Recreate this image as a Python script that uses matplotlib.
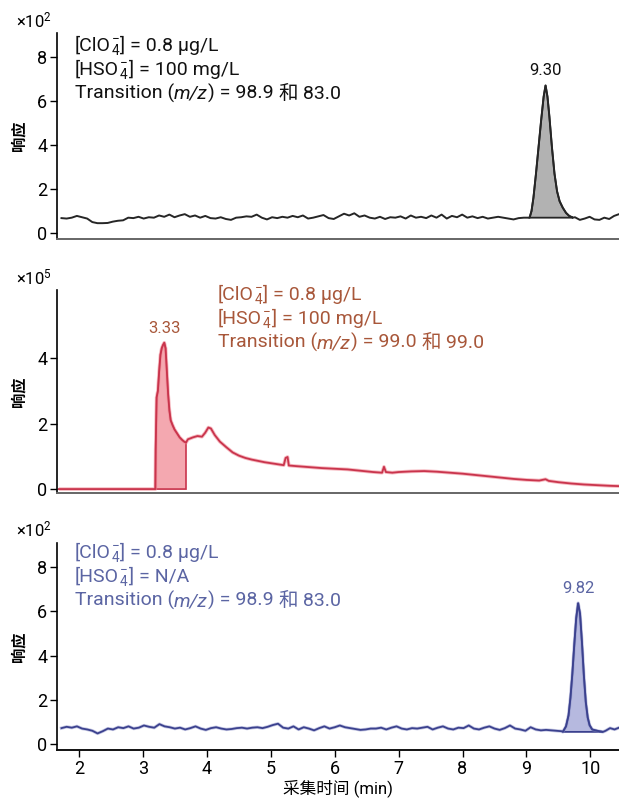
import numpy as np
import matplotlib
matplotlib.use("Agg")
import matplotlib.pyplot as plt
import matplotlib.transforms as mtransforms
from matplotlib import font_manager as fm

# ---------------- fonts ----------------
names = {f.name for f in fm.fontManager.ttflist}
if 'Liberation Sans Narrow' in names:
    FONT = 'Liberation Sans Narrow'
elif 'Roboto' in names:
    FONT = 'Roboto'
else:
    FONT = 'Liberation Sans'
CJK = 'Noto Sans CJK SC'
plt.rcParams['font.family'] = [FONT, CJK, 'DejaVu Sans']
plt.rcParams['mathtext.fontset'] = 'custom'
plt.rcParams['mathtext.rm'] = FONT
plt.rcParams['mathtext.it'] = FONT + ':italic'
plt.rcParams['mathtext.bf'] = FONT + ':bold'

# ---------------- data ----------------
x_ticks = [2, 3, 4, 5, 6, 7, 8, 9, 10]
x_label = "采集时间 (min)"
y_label = "响应"

# Panel 1 (ClO4-, HSO4- 100 mg/L, 98.9 -> 83.0), response x10^2
top_base1 = [0.68, 0.66, 0.70, 0.78, 0.72, 0.66, 0.50, 0.45, 0.45, 0.46, 0.52, 0.56,
             0.58, 0.70, 0.68, 0.74, 0.66, 0.72, 0.70, 0.80, 0.74, 0.84, 0.72, 0.80,
             0.86, 0.74, 0.80, 0.70, 0.78, 0.68, 0.66, 0.72, 0.64, 0.60, 0.70, 0.72,
             0.76, 0.74, 0.84, 0.70, 0.62, 0.72, 0.68, 0.74, 0.70, 0.78, 0.72, 0.80,
             0.66, 0.70, 0.76, 0.82, 0.68, 0.64, 0.76, 0.88, 0.80, 0.90, 0.74, 0.80,
             0.70, 0.66, 0.74, 0.64, 0.72, 0.70, 0.76, 0.66, 0.80, 0.70, 0.74, 0.68,
             0.80, 0.70, 0.84, 0.66, 0.78, 0.72, 0.84, 0.70, 0.76, 0.68, 0.74, 0.66,
             0.70, 0.74, 0.70, 0.66, 0.62, 0.68, 0.70, 0.70]
top_peak_t = [9.05, 9.08, 9.11, 9.15, 9.19, 9.23, 9.27, 9.30, 9.33, 9.36, 9.40,
              9.44, 9.48, 9.52, 9.57, 9.62, 9.67, 9.73]
top_peak_y = [0.70, 1.00, 1.60, 2.70, 3.90, 5.10, 6.20, 6.72, 6.20, 5.30, 3.90,
              2.70, 1.90, 1.45, 1.15, 0.92, 0.78, 0.70]
top_base2 = [0.72, 0.60, 0.66, 0.74, 0.62, 0.60, 0.70, 0.64, 0.78, 0.86]
top_peak_label = "9.30"

# Panel 2 (99.0 -> 99.0), response x10^5
mid_t = [1.68, 3.19, 3.195, 3.21, 3.23, 3.25, 3.27, 3.29, 3.31, 3.33, 3.35, 3.37,
         3.39, 3.41, 3.43, 3.46, 3.49, 3.53, 3.57, 3.61, 3.64, 3.67,
         3.70, 3.78, 3.85, 3.92, 3.97, 4.02, 4.06, 4.12, 4.20, 4.30, 4.40, 4.50,
         4.60, 4.70, 4.80, 4.90, 5.00, 5.10, 5.20, 5.23, 5.26, 5.28, 5.40, 5.60,
         5.80, 6.00, 6.20, 6.40, 6.60, 6.74, 6.77, 6.80, 6.90, 7.00, 7.20, 7.40,
         7.60, 7.80, 8.00, 8.20, 8.40, 8.60, 8.80, 9.00, 9.20, 9.30, 9.35, 9.50,
         9.70, 9.90, 10.10, 10.30, 10.45]
mid_y = [0.00, 0.00, 1.20, 2.80, 3.00, 3.60, 4.10, 4.30, 4.40, 4.47, 4.30, 3.60,
         2.90, 2.40, 2.10, 1.95, 1.82, 1.70, 1.58, 1.50, 1.45, 1.42,
         1.52, 1.58, 1.62, 1.60, 1.72, 1.88, 1.85, 1.65, 1.45, 1.28, 1.12, 1.02,
         0.95, 0.90, 0.86, 0.82, 0.79, 0.76, 0.73, 0.95, 0.98, 0.72, 0.70, 0.67,
         0.64, 0.62, 0.60, 0.56, 0.52, 0.50, 0.68, 0.52, 0.50, 0.52, 0.54, 0.55,
         0.53, 0.50, 0.47, 0.43, 0.39, 0.35, 0.31, 0.28, 0.26, 0.30, 0.25, 0.21,
         0.17, 0.14, 0.12, 0.10, 0.09]
mid_fill_range = (3.19, 3.67)
mid_peak_label = "3.33"

# Panel 3 (ClO4- only, 98.9 -> 83.0), response x10^2
bot_base1 = [0.72, 0.78, 0.74, 0.80, 0.70, 0.66, 0.60, 0.48, 0.58, 0.70, 0.66, 0.76,
             0.72, 0.80, 0.70, 0.74, 0.84, 0.78, 0.74, 0.90, 0.80, 0.76, 0.70, 0.74,
             0.66, 0.72, 0.80, 0.70, 0.64, 0.72, 0.76, 0.70, 0.66, 0.68, 0.72, 0.74,
             0.70, 0.74, 0.76, 0.72, 0.78, 0.86, 0.92, 0.74, 0.70, 0.80, 0.66, 0.76,
             0.70, 0.62, 0.72, 0.80, 0.70, 0.76, 0.84, 0.76, 0.72, 0.68, 0.64, 0.66,
             0.70, 0.70, 0.74, 0.66, 0.74, 0.80, 0.70, 0.66, 0.72, 0.70, 0.74, 0.78,
             0.66, 0.74, 0.80, 0.70, 0.66, 0.74, 0.72, 0.84, 0.70, 0.66, 0.74, 0.80,
             0.70, 0.64, 0.72, 0.84, 0.70, 0.66, 0.60, 0.76, 0.66, 0.62, 0.64, 0.62,
             0.60, 0.58]
bot_peak_t = [9.57, 9.62, 9.66, 9.69, 9.72, 9.75, 9.78, 9.81, 9.84, 9.87, 9.90,
              9.93, 9.96, 9.99, 10.03, 10.08, 10.14, 10.20]
bot_peak_y = [0.55, 0.80, 1.30, 2.10, 3.20, 4.50, 5.70, 6.38, 5.90, 4.60, 3.10,
              1.90, 1.20, 0.85, 0.66, 0.62, 0.58, 0.55]
bot_base2 = [0.60, 0.72, 0.66, 0.74]
bot_peak_label = "9.82"

# ---------------- colours ----------------
C_TOP_LINE, C_TOP_FILL, C_TOP_TXT = '#262626', '#b2b2b2', '#111111'
C_MID_LINE, C_MID_FILL, C_MID_TXT = '#c9344c', '#f4a8b0', '#a8573a'
C_BOT_LINE, C_BOT_FILL, C_BOT_TXT = '#3b418e', '#b6b9df', '#5b65a3'

W, H = 619, 799
fig = plt.figure(figsize=(W / 100, H / 100), dpi=100)
renderer = fig.canvas.get_renderer()


def px_rect(l, t, r, b):
    return [l / W, 1 - b / H, (r - l) / W, (b - t) / H]


ax1 = fig.add_axes(px_rect(57, 33, 619, 239))
ax2 = fig.add_axes(px_rect(57, 290, 619, 493))
ax3 = fig.add_axes(px_rect(57, 543, 619, 750))

XLIM = (1.65, 10.45)


def style(ax, ylim, yticks, bottom_ticks, bottom_color):
    ax.set_xlim(*XLIM)
    ax.set_ylim(*ylim)
    ax.set_yticks(yticks)
    for s in ('top', 'right'):
        ax.spines[s].set_visible(False)
    ax.spines['left'].set_linewidth(1.2)
    ax.spines['bottom'].set_linewidth(1.4)
    ax.spines['bottom'].set_color(bottom_color)
    ax.tick_params(axis='y', length=5, width=1, labelsize=13, pad=2)
    if bottom_ticks:
        ax.set_xticks(x_ticks)
        ax.tick_params(axis='x', length=5, width=1, labelsize=13, pad=2)
    else:
        ax.set_xticks([])
    ax.set_ylabel(y_label, family=[CJK], fontsize=11, fontweight='bold', labelpad=8)


style(ax1, (-0.27, 9.1), [0, 2, 4, 6, 8], False, '#666666')
style(ax2, (-0.12, 6.08), [0, 2, 4], False, '#666666')
style(ax3, (-0.27, 9.1), [0, 2, 4, 6, 8], True, '#111111')
ax3.set_xlabel(x_label, family=[FONT, CJK], fontsize=12, labelpad=1)

for ax, mult in ((ax1, '2'), (ax2, '5'), (ax3, '2')):
    ax.text(-0.01, 1.015, r'×10$^{%s}$' % mult, transform=ax.transAxes,
            ha='right', va='bottom', fontsize=12)

# ---- panel 1 traces ----
t1a = np.linspace(1.72, 9.04, len(top_base1))
t1b = np.linspace(9.76, 10.45, len(top_base2))
t1 = np.concatenate([t1a, top_peak_t, t1b])
y1 = np.concatenate([top_base1, top_peak_y, top_base2])
ax1.fill(top_peak_t + [top_peak_t[-1], top_peak_t[0]],
         top_peak_y + [top_peak_y[-1], top_peak_y[0]],
         facecolor=C_TOP_FILL, edgecolor=C_TOP_LINE, lw=1.3)
ax1.plot(t1, y1, color=C_TOP_LINE, lw=1.4)
ip = int(np.argmax(top_peak_y))
ax1.annotate(top_peak_label, (top_peak_t[ip], top_peak_y[ip]), xytext=(0, 5),
             textcoords='offset points', ha='center', va='bottom',
             fontsize=12, color=C_TOP_TXT)

# ---- panel 2 traces ----
mt = np.array(mid_t)
my = np.array(mid_y)
sel = (mt >= mid_fill_range[0]) & (mt <= mid_fill_range[1])
fx = list(mt[sel]) + [mid_fill_range[1], mid_fill_range[0]]
fy = list(my[sel]) + [0, 0]
ax2.fill(fx, fy, facecolor=C_MID_FILL, edgecolor=C_MID_LINE, lw=1.2)
ax2.plot(mt, my, color='#f08a96', lw=2.6, alpha=0.6, solid_capstyle='butt')
ax2.plot(mt, my, color=C_MID_LINE, lw=1.3)
im = int(np.argmax(my))
ax2.annotate(mid_peak_label, (mt[im], my[im]), xytext=(0, 5),
             textcoords='offset points', ha='center', va='bottom',
             fontsize=12, color=C_MID_TXT)

# ---- panel 3 traces ----
t3a = np.linspace(1.72, 9.55, len(bot_base1))
t3b = np.linspace(10.24, 10.45, len(bot_base2))
t3 = np.concatenate([t3a, bot_peak_t, t3b])
y3 = np.concatenate([bot_base1, bot_peak_y, bot_base2])
ax3.fill(bot_peak_t + [bot_peak_t[-1], bot_peak_t[0]],
         bot_peak_y + [bot_peak_y[-1], bot_peak_y[0]],
         facecolor=C_BOT_FILL, edgecolor=C_BOT_LINE, lw=1.3)
ax3.plot(t3, y3, color='#8c91c8', lw=2.4, alpha=0.5)
ax3.plot(t3, y3, color=C_BOT_LINE, lw=1.3)
ib = int(np.argmax(bot_peak_y))
ax3.annotate(bot_peak_label, (bot_peak_t[ib], bot_peak_y[ib]), xytext=(0, 5),
             textcoords='offset points', ha='center', va='bottom',
             fontsize=12, color=C_BOT_TXT)


# ---------------- rich text annotations ----------------
def rich(xpx, ypx, segments, color, size=14):
    trans = fig.transFigure
    x, y = xpx / W, 1 - ypx / H
    for seg, kw in segments:
        t = fig.text(x, y, seg, transform=trans, color=color, fontsize=size,
                     ha='left', va='baseline', **kw)
        ext = t.get_window_extent(renderer)
        trans = mtransforms.offset_copy(t.get_transform(), x=ext.width, units='dots')


def block(xpx, ypx0, hso, trans1, trans2, color):
    rich(xpx, ypx0, [("[ClO", {}), (r"$_4^{-}$", {}), ("] = 0.8 μg/L", {})], color)
    rich(xpx, ypx0 + 24, [("[HSO", {}), (r"$_4^{-}$", {}), ("] = " + hso, {})], color)
    rich(xpx, ypx0 + 48, [("Transition (", {}), ("m/z", {'style': 'italic'}),
                          (") = %s " % trans1, {}), ("和", {'family': [CJK]}),
                          (" %s" % trans2, {})], color)


block(75, 51, "100 mg/L", "98.9", "83.0", C_TOP_TXT)
block(218, 300, "100 mg/L", "99.0", "99.0", C_MID_TXT)
block(75, 558, "N/A", "98.9", "83.0", C_BOT_TXT)

fig.savefig("out.png", dpi=100)
